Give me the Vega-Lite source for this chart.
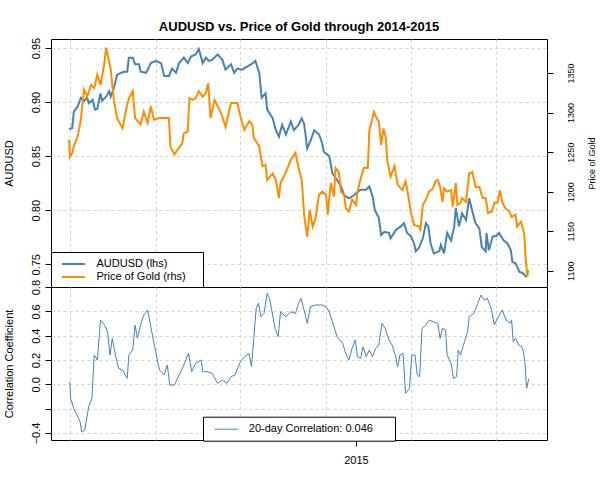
{
  "$schema": "https://vega.github.io/schema/vega-lite/v6.json",
  "padding": {"left": 2, "top": 20, "right": 2, "bottom": 5},
  "config": {
    "font": "Liberation Sans",
    "view": {"stroke": "black", "strokeWidth": 1},
    "axis": {"domain": false, "tickColor": "black", "labelColor": "black", "titleColor": "black", "titleFontWeight": "normal", "gridColor": "#d3d3d3", "gridDash": [3, 3], "tickSize": 6},
    "title": {"font": "Liberation Sans", "fontSize": 13, "fontWeight": "bold", "color": "black"}
  },
  "datasets": {
    "audusd": [
      {"date": "2014-01-01", "v": 0.875}, {"date": "2014-01-05", "v": 0.876}, {"date": "2014-01-07", "v": 0.891}, {"date": "2014-01-12", "v": 0.896},
      {"date": "2014-01-16", "v": 0.904}, {"date": "2014-01-20", "v": 0.901}, {"date": "2014-01-24", "v": 0.904}, {"date": "2014-01-26", "v": 0.899},
      {"date": "2014-01-31", "v": 0.902}, {"date": "2014-02-03", "v": 0.893}, {"date": "2014-02-06", "v": 0.894}, {"date": "2014-02-10", "v": 0.908},
      {"date": "2014-02-12", "v": 0.901}, {"date": "2014-02-17", "v": 0.905}, {"date": "2014-02-21", "v": 0.910}, {"date": "2014-02-23", "v": 0.905},
      {"date": "2014-02-27", "v": 0.913}, {"date": "2014-03-03", "v": 0.925}, {"date": "2014-03-08", "v": 0.927}, {"date": "2014-03-12", "v": 0.928},
      {"date": "2014-03-16", "v": 0.928}, {"date": "2014-03-18", "v": 0.941}, {"date": "2014-03-23", "v": 0.941}, {"date": "2014-03-26", "v": 0.935},
      {"date": "2014-03-31", "v": 0.935}, {"date": "2014-04-02", "v": 0.928}, {"date": "2014-04-09", "v": 0.927}, {"date": "2014-04-15", "v": 0.936},
      {"date": "2014-04-21", "v": 0.938}, {"date": "2014-04-28", "v": 0.936}, {"date": "2014-05-02", "v": 0.924}, {"date": "2014-05-08", "v": 0.924},
      {"date": "2014-05-12", "v": 0.931}, {"date": "2014-05-17", "v": 0.927}, {"date": "2014-05-21", "v": 0.936}, {"date": "2014-05-27", "v": 0.941},
      {"date": "2014-06-01", "v": 0.936}, {"date": "2014-06-05", "v": 0.942}, {"date": "2014-06-11", "v": 0.944}, {"date": "2014-06-15", "v": 0.949},
      {"date": "2014-06-20", "v": 0.936}, {"date": "2014-06-24", "v": 0.941}, {"date": "2014-06-28", "v": 0.938}, {"date": "2014-07-02", "v": 0.939},
      {"date": "2014-07-09", "v": 0.944}, {"date": "2014-07-15", "v": 0.939}, {"date": "2014-07-19", "v": 0.930}, {"date": "2014-07-26", "v": 0.935},
      {"date": "2014-07-30", "v": 0.927}, {"date": "2014-08-03", "v": 0.931}, {"date": "2014-08-09", "v": 0.930}, {"date": "2014-08-16", "v": 0.933},
      {"date": "2014-08-21", "v": 0.935}, {"date": "2014-08-26", "v": 0.938}, {"date": "2014-08-31", "v": 0.927}, {"date": "2014-09-03", "v": 0.904},
      {"date": "2014-09-08", "v": 0.908}, {"date": "2014-09-10", "v": 0.893}, {"date": "2014-09-17", "v": 0.885}, {"date": "2014-09-21", "v": 0.874},
      {"date": "2014-09-25", "v": 0.868}, {"date": "2014-09-29", "v": 0.879}, {"date": "2014-10-04", "v": 0.870}, {"date": "2014-10-10", "v": 0.882},
      {"date": "2014-10-14", "v": 0.874}, {"date": "2014-10-20", "v": 0.879}, {"date": "2014-10-24", "v": 0.885}, {"date": "2014-10-27", "v": 0.880},
      {"date": "2014-10-31", "v": 0.857}, {"date": "2014-11-04", "v": 0.864}, {"date": "2014-11-09", "v": 0.874}, {"date": "2014-11-15", "v": 0.870},
      {"date": "2014-11-19", "v": 0.862}, {"date": "2014-11-21", "v": 0.854}, {"date": "2014-11-28", "v": 0.850}, {"date": "2014-12-02", "v": 0.834},
      {"date": "2014-12-06", "v": 0.830}, {"date": "2014-12-13", "v": 0.822}, {"date": "2014-12-17", "v": 0.814}, {"date": "2014-12-23", "v": 0.811},
      {"date": "2014-12-30", "v": 0.814}, {"date": "2015-01-03", "v": 0.817}, {"date": "2015-01-07", "v": 0.819}, {"date": "2015-01-14", "v": 0.819},
      {"date": "2015-01-18", "v": 0.822}, {"date": "2015-01-22", "v": 0.813}, {"date": "2015-01-25", "v": 0.800}, {"date": "2015-01-30", "v": 0.793},
      {"date": "2015-02-02", "v": 0.777}, {"date": "2015-02-06", "v": 0.780}, {"date": "2015-02-12", "v": 0.779}, {"date": "2015-02-14", "v": 0.774},
      {"date": "2015-02-21", "v": 0.782}, {"date": "2015-02-27", "v": 0.785}, {"date": "2015-03-03", "v": 0.788}, {"date": "2015-03-07", "v": 0.779},
      {"date": "2015-03-12", "v": 0.776}, {"date": "2015-03-16", "v": 0.769}, {"date": "2015-03-18", "v": 0.762}, {"date": "2015-03-22", "v": 0.765},
      {"date": "2015-03-27", "v": 0.774}, {"date": "2015-03-31", "v": 0.788}, {"date": "2015-04-03", "v": 0.785}, {"date": "2015-04-06", "v": 0.769},
      {"date": "2015-04-10", "v": 0.760}, {"date": "2015-04-17", "v": 0.762}, {"date": "2015-04-19", "v": 0.768}, {"date": "2015-04-23", "v": 0.760},
      {"date": "2015-04-27", "v": 0.779}, {"date": "2015-05-02", "v": 0.772}, {"date": "2015-05-06", "v": 0.785}, {"date": "2015-05-08", "v": 0.802},
      {"date": "2015-05-12", "v": 0.785}, {"date": "2015-05-16", "v": 0.797}, {"date": "2015-05-21", "v": 0.791}, {"date": "2015-05-25", "v": 0.811},
      {"date": "2015-05-29", "v": 0.799}, {"date": "2015-06-02", "v": 0.788}, {"date": "2015-06-07", "v": 0.783}, {"date": "2015-06-10", "v": 0.766},
      {"date": "2015-06-15", "v": 0.762}, {"date": "2015-06-16", "v": 0.779}, {"date": "2015-06-19", "v": 0.763}, {"date": "2015-06-24", "v": 0.776},
      {"date": "2015-06-28", "v": 0.776}, {"date": "2015-07-02", "v": 0.779}, {"date": "2015-07-08", "v": 0.772}, {"date": "2015-07-13", "v": 0.769},
      {"date": "2015-07-17", "v": 0.763}, {"date": "2015-07-19", "v": 0.752}, {"date": "2015-07-23", "v": 0.751}, {"date": "2015-07-28", "v": 0.743},
      {"date": "2015-08-01", "v": 0.742}, {"date": "2015-08-06", "v": 0.738}
    ],
    "gold": [
      {"date": "2014-01-01", "v": 1266}, {"date": "2014-01-02", "v": 1244}, {"date": "2014-01-05", "v": 1249}, {"date": "2014-01-07", "v": 1257},
      {"date": "2014-01-12", "v": 1270}, {"date": "2014-01-16", "v": 1291}, {"date": "2014-01-20", "v": 1329}, {"date": "2014-01-24", "v": 1320},
      {"date": "2014-01-29", "v": 1335}, {"date": "2014-02-02", "v": 1331}, {"date": "2014-02-06", "v": 1348}, {"date": "2014-02-10", "v": 1335},
      {"date": "2014-02-15", "v": 1363}, {"date": "2014-02-17", "v": 1382}, {"date": "2014-02-20", "v": 1369}, {"date": "2014-02-23", "v": 1354},
      {"date": "2014-02-27", "v": 1316}, {"date": "2014-03-03", "v": 1293}, {"date": "2014-03-10", "v": 1280}, {"date": "2014-03-14", "v": 1301},
      {"date": "2014-03-18", "v": 1318}, {"date": "2014-03-23", "v": 1327}, {"date": "2014-03-26", "v": 1293}, {"date": "2014-04-02", "v": 1285},
      {"date": "2014-04-06", "v": 1301}, {"date": "2014-04-11", "v": 1287}, {"date": "2014-04-15", "v": 1308}, {"date": "2014-04-19", "v": 1291},
      {"date": "2014-04-26", "v": 1293}, {"date": "2014-05-02", "v": 1293}, {"date": "2014-05-08", "v": 1293}, {"date": "2014-05-10", "v": 1257},
      {"date": "2014-05-15", "v": 1247}, {"date": "2014-05-19", "v": 1253}, {"date": "2014-05-25", "v": 1261}, {"date": "2014-05-27", "v": 1274},
      {"date": "2014-06-01", "v": 1276}, {"date": "2014-06-03", "v": 1318}, {"date": "2014-06-07", "v": 1316}, {"date": "2014-06-11", "v": 1318},
      {"date": "2014-06-15", "v": 1327}, {"date": "2014-06-20", "v": 1320}, {"date": "2014-06-24", "v": 1325}, {"date": "2014-06-27", "v": 1337},
      {"date": "2014-06-30", "v": 1293}, {"date": "2014-07-05", "v": 1316}, {"date": "2014-07-11", "v": 1304}, {"date": "2014-07-15", "v": 1295},
      {"date": "2014-07-19", "v": 1282}, {"date": "2014-07-26", "v": 1312}, {"date": "2014-08-03", "v": 1312}, {"date": "2014-08-07", "v": 1295},
      {"date": "2014-08-12", "v": 1278}, {"date": "2014-08-18", "v": 1289}, {"date": "2014-08-22", "v": 1285}, {"date": "2014-08-24", "v": 1268},
      {"date": "2014-08-31", "v": 1257}, {"date": "2014-09-02", "v": 1244}, {"date": "2014-09-04", "v": 1232}, {"date": "2014-09-08", "v": 1234},
      {"date": "2014-09-10", "v": 1215}, {"date": "2014-09-17", "v": 1223}, {"date": "2014-09-21", "v": 1215}, {"date": "2014-09-25", "v": 1192},
      {"date": "2014-09-27", "v": 1211}, {"date": "2014-10-04", "v": 1225}, {"date": "2014-10-10", "v": 1240}, {"date": "2014-10-16", "v": 1249},
      {"date": "2014-10-20", "v": 1230}, {"date": "2014-10-24", "v": 1215}, {"date": "2014-10-27", "v": 1171}, {"date": "2014-10-31", "v": 1143},
      {"date": "2014-11-03", "v": 1177}, {"date": "2014-11-07", "v": 1156}, {"date": "2014-11-10", "v": 1164}, {"date": "2014-11-15", "v": 1196},
      {"date": "2014-11-19", "v": 1200}, {"date": "2014-11-24", "v": 1196}, {"date": "2014-11-26", "v": 1171}, {"date": "2014-11-30", "v": 1211},
      {"date": "2014-12-04", "v": 1194}, {"date": "2014-12-06", "v": 1230}, {"date": "2014-12-10", "v": 1225}, {"date": "2014-12-13", "v": 1200},
      {"date": "2014-12-17", "v": 1196}, {"date": "2014-12-19", "v": 1179}, {"date": "2014-12-23", "v": 1175}, {"date": "2014-12-27", "v": 1190},
      {"date": "2015-01-01", "v": 1183}, {"date": "2015-01-03", "v": 1200}, {"date": "2015-01-07", "v": 1217}, {"date": "2015-01-11", "v": 1230},
      {"date": "2015-01-16", "v": 1230}, {"date": "2015-01-18", "v": 1278}, {"date": "2015-01-21", "v": 1289}, {"date": "2015-01-24", "v": 1301},
      {"date": "2015-01-27", "v": 1293}, {"date": "2015-01-30", "v": 1289}, {"date": "2015-02-02", "v": 1259}, {"date": "2015-02-05", "v": 1280},
      {"date": "2015-02-08", "v": 1268}, {"date": "2015-02-10", "v": 1238}, {"date": "2015-02-14", "v": 1219}, {"date": "2015-02-19", "v": 1232},
      {"date": "2015-02-23", "v": 1209}, {"date": "2015-03-01", "v": 1202}, {"date": "2015-03-05", "v": 1213}, {"date": "2015-03-07", "v": 1204},
      {"date": "2015-03-12", "v": 1173}, {"date": "2015-03-16", "v": 1158}, {"date": "2015-03-22", "v": 1156}, {"date": "2015-03-24", "v": 1152},
      {"date": "2015-03-27", "v": 1183}, {"date": "2015-03-31", "v": 1190}, {"date": "2015-04-04", "v": 1200}, {"date": "2015-04-09", "v": 1204},
      {"date": "2015-04-12", "v": 1213}, {"date": "2015-04-15", "v": 1215}, {"date": "2015-04-18", "v": 1206}, {"date": "2015-04-21", "v": 1187},
      {"date": "2015-04-23", "v": 1204}, {"date": "2015-04-27", "v": 1200}, {"date": "2015-05-02", "v": 1202}, {"date": "2015-05-04", "v": 1181},
      {"date": "2015-05-08", "v": 1211}, {"date": "2015-05-10", "v": 1183}, {"date": "2015-05-14", "v": 1186}, {"date": "2015-05-16", "v": 1192},
      {"date": "2015-05-21", "v": 1187}, {"date": "2015-05-25", "v": 1223}, {"date": "2015-05-29", "v": 1225}, {"date": "2015-06-02", "v": 1206},
      {"date": "2015-06-07", "v": 1206}, {"date": "2015-06-11", "v": 1192}, {"date": "2015-06-15", "v": 1192}, {"date": "2015-06-18", "v": 1173},
      {"date": "2015-06-23", "v": 1175}, {"date": "2015-06-26", "v": 1186}, {"date": "2015-06-30", "v": 1186}, {"date": "2015-07-03", "v": 1202},
      {"date": "2015-07-06", "v": 1187}, {"date": "2015-07-10", "v": 1179}, {"date": "2015-07-15", "v": 1175}, {"date": "2015-07-18", "v": 1168},
      {"date": "2015-07-23", "v": 1171}, {"date": "2015-07-25", "v": 1156}, {"date": "2015-07-30", "v": 1162}, {"date": "2015-08-03", "v": 1147},
      {"date": "2015-08-05", "v": 1114}, {"date": "2015-08-07", "v": 1093}, {"date": "2015-08-08", "v": 1101}
    ],
    "corr": [
      {"date": "2014-01-02", "v": 0.021}, {"date": "2014-01-03", "v": -0.115}, {"date": "2014-01-07", "v": -0.198}, {"date": "2014-01-12", "v": -0.267},
      {"date": "2014-01-15", "v": -0.308}, {"date": "2014-01-17", "v": -0.390}, {"date": "2014-01-21", "v": -0.376}, {"date": "2014-01-26", "v": -0.184},
      {"date": "2014-01-30", "v": -0.115}, {"date": "2014-02-02", "v": 0.241}, {"date": "2014-02-06", "v": 0.200}, {"date": "2014-02-10", "v": 0.529},
      {"date": "2014-02-15", "v": 0.488}, {"date": "2014-02-19", "v": 0.433}, {"date": "2014-02-22", "v": 0.241}, {"date": "2014-02-25", "v": 0.379},
      {"date": "2014-03-01", "v": 0.241}, {"date": "2014-03-05", "v": 0.132}, {"date": "2014-03-10", "v": 0.118}, {"date": "2014-03-16", "v": 0.049},
      {"date": "2014-03-18", "v": 0.241}, {"date": "2014-03-23", "v": 0.282}, {"date": "2014-03-26", "v": 0.488}, {"date": "2014-03-29", "v": 0.379},
      {"date": "2014-04-02", "v": 0.488}, {"date": "2014-04-06", "v": 0.570}, {"date": "2014-04-11", "v": 0.611}, {"date": "2014-04-15", "v": 0.474},
      {"date": "2014-04-19", "v": 0.337}, {"date": "2014-04-26", "v": 0.118}, {"date": "2014-05-02", "v": 0.077}, {"date": "2014-05-06", "v": 0.159},
      {"date": "2014-05-09", "v": -0.006}, {"date": "2014-05-15", "v": -0.006}, {"date": "2014-05-21", "v": 0.077}, {"date": "2014-05-27", "v": 0.159},
      {"date": "2014-06-02", "v": 0.255}, {"date": "2014-06-06", "v": 0.104}, {"date": "2014-06-11", "v": 0.173}, {"date": "2014-06-18", "v": 0.200},
      {"date": "2014-06-20", "v": 0.104}, {"date": "2014-06-26", "v": 0.104}, {"date": "2014-07-02", "v": 0.091}, {"date": "2014-07-09", "v": 0.008},
      {"date": "2014-07-15", "v": 0.035}, {"date": "2014-07-21", "v": 0.008}, {"date": "2014-07-26", "v": 0.063}, {"date": "2014-07-31", "v": 0.077},
      {"date": "2014-08-07", "v": 0.186}, {"date": "2014-08-12", "v": 0.227}, {"date": "2014-08-18", "v": 0.255}, {"date": "2014-08-21", "v": 0.145},
      {"date": "2014-08-24", "v": 0.379}, {"date": "2014-08-27", "v": 0.625}, {"date": "2014-08-30", "v": 0.667}, {"date": "2014-09-02", "v": 0.556},
      {"date": "2014-09-06", "v": 0.584}, {"date": "2014-09-10", "v": 0.749}, {"date": "2014-09-13", "v": 0.708}, {"date": "2014-09-17", "v": 0.570},
      {"date": "2014-09-20", "v": 0.461}, {"date": "2014-09-24", "v": 0.392}, {"date": "2014-09-27", "v": 0.597}, {"date": "2014-10-04", "v": 0.556},
      {"date": "2014-10-10", "v": 0.597}, {"date": "2014-10-16", "v": 0.584}, {"date": "2014-10-20", "v": 0.667}, {"date": "2014-10-23", "v": 0.708},
      {"date": "2014-10-27", "v": 0.611}, {"date": "2014-10-31", "v": 0.502}, {"date": "2014-11-04", "v": 0.639}, {"date": "2014-11-11", "v": 0.653},
      {"date": "2014-11-19", "v": 0.653}, {"date": "2014-11-24", "v": 0.639}, {"date": "2014-11-28", "v": 0.597}, {"date": "2014-12-04", "v": 0.474},
      {"date": "2014-12-08", "v": 0.392}, {"date": "2014-12-15", "v": 0.337}, {"date": "2014-12-19", "v": 0.255}, {"date": "2014-12-23", "v": 0.200},
      {"date": "2014-12-27", "v": 0.296}, {"date": "2014-12-31", "v": 0.365}, {"date": "2015-01-03", "v": 0.227}, {"date": "2015-01-07", "v": 0.214},
      {"date": "2015-01-10", "v": 0.309}, {"date": "2015-01-14", "v": 0.227}, {"date": "2015-01-18", "v": 0.282}, {"date": "2015-01-22", "v": 0.227},
      {"date": "2015-01-26", "v": 0.296}, {"date": "2015-01-30", "v": 0.323}, {"date": "2015-02-03", "v": 0.502}, {"date": "2015-02-07", "v": 0.461},
      {"date": "2015-02-12", "v": 0.365}, {"date": "2015-02-16", "v": 0.323}, {"date": "2015-02-20", "v": 0.241}, {"date": "2015-02-23", "v": 0.145},
      {"date": "2015-02-26", "v": 0.241}, {"date": "2015-03-02", "v": 0.255}, {"date": "2015-03-05", "v": -0.074}, {"date": "2015-03-10", "v": -0.033},
      {"date": "2015-03-13", "v": 0.241}, {"date": "2015-03-17", "v": 0.241}, {"date": "2015-03-20", "v": 0.077}, {"date": "2015-03-23", "v": 0.063},
      {"date": "2015-03-26", "v": 0.461}, {"date": "2015-03-31", "v": 0.488}, {"date": "2015-04-04", "v": 0.529}, {"date": "2015-04-10", "v": 0.515},
      {"date": "2015-04-15", "v": 0.502}, {"date": "2015-04-18", "v": 0.379}, {"date": "2015-04-21", "v": 0.461}, {"date": "2015-04-25", "v": 0.447},
      {"date": "2015-04-27", "v": 0.241}, {"date": "2015-05-02", "v": 0.173}, {"date": "2015-05-05", "v": 0.049}, {"date": "2015-05-09", "v": 0.063},
      {"date": "2015-05-11", "v": 0.282}, {"date": "2015-05-14", "v": 0.241}, {"date": "2015-05-19", "v": 0.351}, {"date": "2015-05-23", "v": 0.433},
      {"date": "2015-05-25", "v": 0.556}, {"date": "2015-05-31", "v": 0.584}, {"date": "2015-06-05", "v": 0.667}, {"date": "2015-06-09", "v": 0.735},
      {"date": "2015-06-13", "v": 0.694}, {"date": "2015-06-17", "v": 0.708}, {"date": "2015-06-22", "v": 0.625}, {"date": "2015-06-26", "v": 0.488},
      {"date": "2015-06-30", "v": 0.543}, {"date": "2015-07-06", "v": 0.611}, {"date": "2015-07-11", "v": 0.529}, {"date": "2015-07-16", "v": 0.502},
      {"date": "2015-07-18", "v": 0.529}, {"date": "2015-07-20", "v": 0.351}, {"date": "2015-07-23", "v": 0.379}, {"date": "2015-07-27", "v": 0.323},
      {"date": "2015-07-31", "v": 0.309}, {"date": "2015-08-02", "v": 0.268}, {"date": "2015-08-04", "v": 0.173}, {"date": "2015-08-06", "v": -0.033},
      {"date": "2015-08-09", "v": 0.046}
    ]
  },
  "vconcat": [
    {
      "width": 496,
      "height": 248,
      "title": {"text": "AUDUSD vs. Price of Gold through 2014-2015", "anchor": "middle", "baseline": "alphabetic", "offset": -7},
      "layer": [
        {
          "data": {"name": "audusd"},
          "mark": {"type": "line", "strokeWidth": 2},
          "encoding": {
            "x": {"field": "date", "type": "temporal",
              "scale": {"domain": [{"year": 2013, "month": 12, "date": 9}, {"year": 2015, "month": 9, "date": 1}]},
              "axis": {"title": null, "labels": false, "ticks": false, "grid": true, "maxExtent": 0, "minExtent": 0,
                "values": [{"year": 2014, "month": 1, "date": 2}, {"year": 2014, "month": 4, "date": 21}, {"year": 2014, "month": 8, "date": 7}, {"year": 2014, "month": 11, "date": 24}, {"year": 2015, "month": 3, "date": 12}, {"year": 2015, "month": 6, "date": 28}]}},
            "y": {"field": "v", "type": "quantitative",
              "scale": {"domain": [0.729, 0.9583], "nice": false, "zero": false},
              "axis": {"orient": "left", "title": "AUDUSD", "titleFontSize": 11, "titlePadding": 16,
                "values": [0.75, 0.8, 0.85, 0.9, 0.95], "format": ".2f", "grid": true,
                "labelAngle": 270, "labelAlign": "center", "labelBaseline": "bottom", "labelFontSize": 11, "labelPadding": 4}},
            "color": {"datum": "AUDUSD (lhs)", "type": "nominal",
              "scale": {"domain": ["AUDUSD (lhs)", "Price of Gold (rhs)"], "range": ["#4682b4", "#ff8c00"]},
              "legend": {"orient": "none", "legendX": 0, "legendY": 213, "title": " ", "titleOrient": "right", "titlePadding": 12,
                "padding": 5, "strokeColor": "black", "fillColor": "white", "symbolType": "M-1,0H3", "symbolSize": 132, "symbolStrokeWidth": 2,
                "symbolOffset": 4.7, "labelOffset": 21.8, "labelFontSize": 11, "labelColor": "black", "rowPadding": 1}}
          }
        },
        {
          "data": {"name": "gold"},
          "mark": {"type": "line", "strokeWidth": 2},
          "encoding": {
            "x": {"field": "date", "type": "temporal"},
            "y": {"field": "v", "type": "quantitative",
              "scale": {"domain": [1079.5, 1393], "nice": false, "zero": false},
              "axis": {"orient": "right", "title": "Price of Gold", "titleFontSize": 9, "titleAngle": 270, "titleBaseline": "top", "titlePadding": 12,
                "values": [1100, 1150, 1200, 1250, 1300, 1350], "format": "d", "grid": false,
                "labelAngle": 270, "labelAlign": "center", "labelBaseline": "top", "labelFontSize": 9, "labelPadding": 13}},
            "color": {"datum": "Price of Gold (rhs)", "type": "nominal"}
          }
        }
      ],
      "resolve": {"scale": {"y": "independent"}, "axis": {"y": "independent"}}
    },
    {
      "width": 496,
      "height": 153,
      "data": {"name": "corr"},
      "mark": {"type": "line", "strokeWidth": 1},
      "encoding": {
        "x": {"field": "date", "type": "temporal",
          "scale": {"domain": [{"year": 2013, "month": 12, "date": 9}, {"year": 2015, "month": 9, "date": 1}]},
          "axis": {"title": null, "grid": true, "labelFontSize": 11, "labelPadding": 8,
            "values": [{"year": 2014, "month": 1, "date": 2}, {"year": 2014, "month": 4, "date": 21}, {"year": 2014, "month": 8, "date": 7}, {"year": 2014, "month": 11, "date": 24}, {"year": 2015, "month": 1, "date": 1}, {"year": 2015, "month": 3, "date": 12}, {"year": 2015, "month": 6, "date": 28}],
            "labelExpr": "year(datum.value) == 2015 && month(datum.value) == 0 ? '2015' : ''",
            "gridOpacity": {"condition": {"test": "year(datum.value) == 2015 && month(datum.value) == 0", "value": 0}, "value": 1},
            "tickOpacity": {"condition": {"test": "year(datum.value) == 2015 && month(datum.value) == 0", "value": 1}, "value": 0}}},
        "y": {"field": "v", "type": "quantitative",
          "scale": {"domain": [-0.458, 0.801], "nice": false, "zero": false},
          "axis": {"title": "Correlation Coefficient", "titleFontSize": 11, "titlePadding": 16,
            "values": [-0.4, -0.2, 0, 0.2, 0.4, 0.6, 0.8], "grid": true,
            "gridOpacity": {"condition": {"test": "datum.value > 0.75", "value": 0}, "value": 1},
            "labelExpr": "abs(datum.value + 0.2) < 0.01 ? '' : format(datum.value, '.1f')",
            "labelAngle": 270, "labelAlign": "center", "labelBaseline": "bottom", "labelFontSize": 11, "labelPadding": 4}},
        "color": {"datum": "20-day Correlation: 0.046", "type": "nominal",
          "scale": {"domain": ["20-day Correlation: 0.046"], "range": ["#4682b4"]},
          "legend": {"orient": "none", "legendX": 152, "legendY": 129.7, "title": " ", "titleOrient": "right", "titlePadding": 16,
            "padding": 6, "strokeColor": "black", "fillColor": "white", "symbolType": "M-1,0H3", "symbolSize": 132, "symbolStrokeWidth": 1,
            "symbolOffset": 5, "labelOffset": 21.8, "labelFontSize": 11, "labelColor": "black"}}
      }
    }
  ],
  "spacing": 0,
  "bounds": "flush",
  "resolve": {"scale": {"color": "independent", "x": "independent"}, "legend": {"color": "independent"}}
}
